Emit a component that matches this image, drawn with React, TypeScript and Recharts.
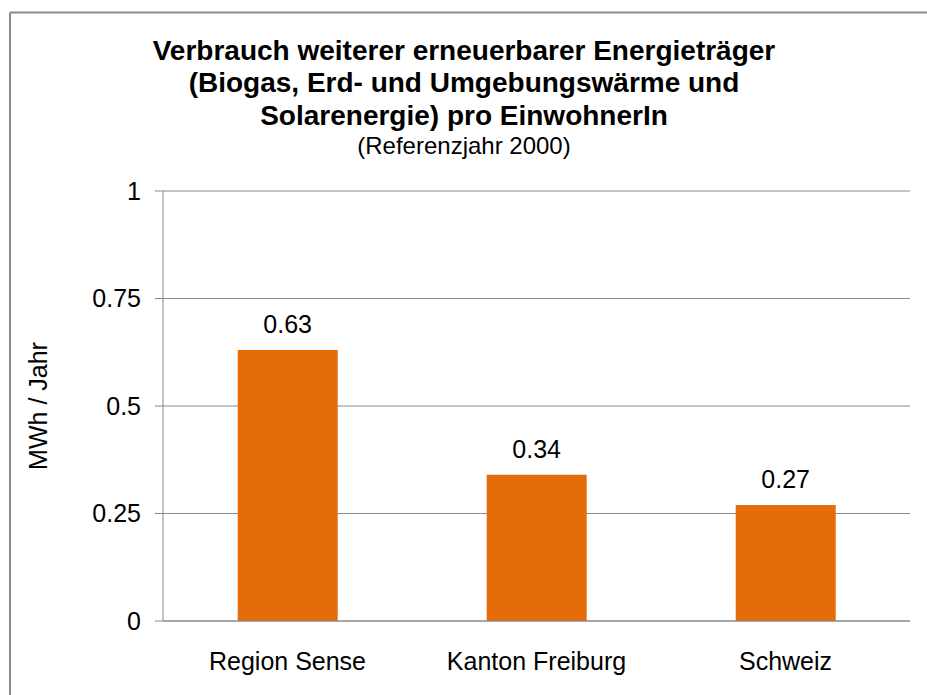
import React from 'react';
import { BarChart, Bar, XAxis, YAxis, CartesianGrid, LabelList } from 'recharts';

const categories = ['Region Sense', 'Kanton Freiburg', 'Schweiz'];
const values = [0.63, 0.34, 0.27];
const yTicks = [0, 0.25, 0.5, 0.75, 1];
const boundaryTicks = [0, 1, 2, 3];
const titleLines = [
  'Verbrauch weiterer erneuerbarer Energieträger',
  '(Biogas, Erd- und Umgebungswärme und',
  'Solarenergie) pro EinwohnerIn',
];
const subtitle = '(Referenzjahr 2000)';
const yLabel = 'MWh / Jahr';

const data = categories.map((name, i) => ({ name, value: values[i] }));

const FONT = '"Liberation Sans", Arial, sans-serif';
const GRAY = '#8a8a8a';
const W = 927;
const H = 695;

export default function App() {
  return (
    <div
      style={{
        position: 'fixed',
        left: 0,
        top: 0,
        width: W,
        height: H,
        fontFamily: FONT,
        background: '#fff',
      }}
    >
      <svg width={W} height={H} style={{ position: 'absolute', left: 0, top: 0 }}>
        <line x1={10} y1={12.5} x2={W} y2={12.5} stroke={GRAY} strokeWidth={2} />
        <line x1={10} y1={12.5} x2={10} y2={H} stroke={GRAY} strokeWidth={2} />
        {titleLines.map((t, i) => (
          <text
            key={i}
            x={464}
            y={59.5 + i * 32.5}
            textAnchor="middle"
            fontSize={28}
            fontWeight="bold"
            fontFamily={FONT}
            fill="#000"
          >
            {t}
          </text>
        ))}
        <text x={464} y={154} textAnchor="middle" fontSize={24} fontFamily={FONT} fill="#000">
          {subtitle}
        </text>
      </svg>
      <div style={{ position: 'absolute', left: 0, top: 0 }}>
        <BarChart
          width={W}
          height={H}
          data={data}
          margin={{ top: 191, right: 17, bottom: 0, left: 0 }}
          barCategoryGap="30%"
        >
          <CartesianGrid vertical={false} stroke={GRAY} strokeWidth={1} />
          <XAxis
            xAxisId="b"
            type="number"
            domain={[0, 3]}
            ticks={boundaryTicks}
            tick={false}
            height={1}
            tickSize={8}
            axisLine={{ stroke: GRAY }}
            tickLine={{ stroke: GRAY }}
            allowDataOverflow
          />
          <XAxis
            xAxisId="cat"
            dataKey="name"
            height={73}
            tickSize={0}
            tickMargin={30}
            axisLine={false}
            tickLine={false}
            tick={{ fontSize: 25, fill: '#000' }}
            interval={0}
          />
          <YAxis
            domain={[0, 1]}
            ticks={yTicks}
            width={163}
            tickSize={8}
            tickMargin={14}
            axisLine={{ stroke: GRAY }}
            tickLine={{ stroke: GRAY }}
            tick={{ fontSize: 25, fill: '#000' }}
            label={{
              value: yLabel,
              angle: -90,
              position: 'insideLeft',
              offset: 38,
              fontSize: 25,
              fill: '#000',
              style: { textAnchor: 'middle' },
            }}
          />
          <Bar dataKey="value" xAxisId="cat" fill="#E46C0A" isAnimationActive={false}>
            <LabelList dataKey="value" position="top" offset={17} fontSize={25} fill="#000" />
          </Bar>
        </BarChart>
      </div>
    </div>
  );
}
